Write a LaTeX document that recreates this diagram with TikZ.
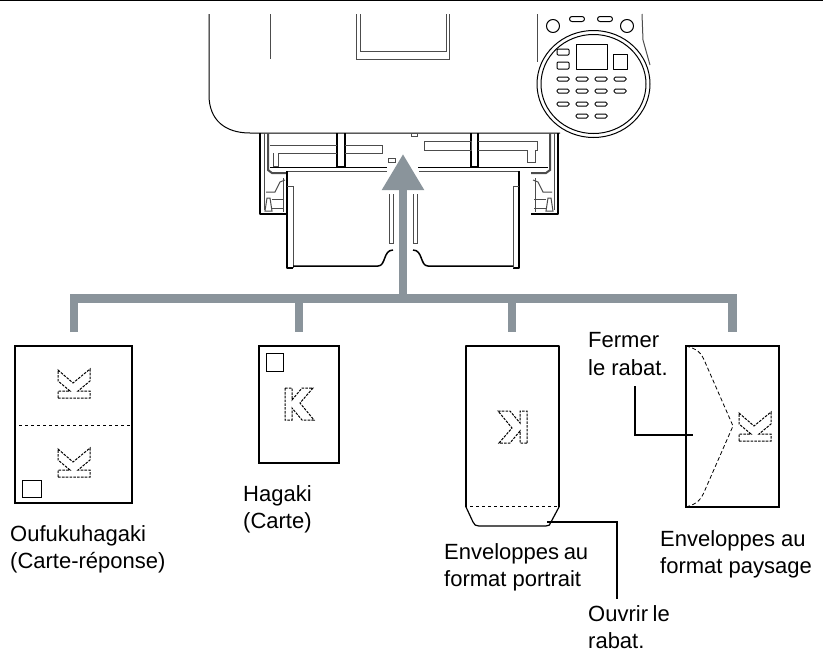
\documentclass[tikz,border=0pt]{standalone}
\usepackage{fontspec}
\setmainfont{Liberation Sans}
\usetikzlibrary{arrows.meta}
\definecolor{bargray}{HTML}{8A949B}
\tikzset{
  letterk/.pic={
    \draw[line width=1pt,dash pattern=on 2.6pt off 1.2pt]
      (-14,-16) -- (-7,-16) -- (-7,-4) -- (3,-16) -- (14,-16) -- (1,-1)
      -- (15,16) -- (3,16) -- (-7,4) -- (-7,16) -- (-14,16) -- cycle;
  }
}
\begin{document}
\begin{tikzpicture}[
  x=1pt, y=-1pt,
  every node/.style={font=\fontsize{22}{27.8}\selectfont, inner sep=0pt},
  card/.style={draw, line width=1.2pt, minimum height=0pt, minimum width=0pt},
  stamp/.style={draw, line width=.8pt},
  label/.style={anchor=north west, align=left},
  outline/.style={line width=1pt, line join=round},
  thick line/.style={line width=1.5pt, line join=round},
  soft line/.style={line width=1pt, draw=black!70},
  bar/.style={draw=bargray, line width=8.5pt},
  lead/.style={draw, line width=2.4pt}
]
\useasboundingbox (0,0) rectangle (823,656);
\draw[line width=1.6pt] (0,0.6) -- (823,0.6);

% printer
\draw[outline] (209,14) -- (209,95) .. controls (209,120) and (225,133) .. (250,133) -- (560,133);
\draw[soft line] (270,14) -- (270,59);
\draw[soft line] (356,14) -- (356,59) -- (449,59) -- (449,14);
\draw[soft line] (360,14) -- (360,51) -- (446,51) -- (446,14);
\draw[soft line] (537,14) -- (537,62);
\draw[soft line] (642,14) -- (643,40) -- (650,65);
\draw[outline, fill=white] (593.5,84) ellipse (56.5 and 53.5);
\draw[outline] (593.5,84) ellipse (52.5 and 49.5);
\draw[outline] (553,26) circle (6.5);
\draw[outline] (627,26) circle (6.5);
\foreach \kx in {577,605}
  \draw[outline, rounded corners=2.5pt] (\kx-7.5,16.5) rectangle (\kx+7.5,21.5);
\draw[outline] (576,44) rectangle (607,69);
\draw[outline] (613,54) rectangle (627,69);
\draw[outline, rounded corners=1pt] (557,49) rectangle (569,55);
\draw[outline, rounded corners=1pt] (557,62) rectangle (569,69);
\foreach \kx/\ky in {563/79,582/79,601/79,620/79,563/91,582/91,601/91,620/91,563/104,582/104,601/104,582/116,601/116}
  \draw[outline, rounded corners=1.5pt] (\kx-6,\ky-2) rectangle (\kx+6,\ky+2);

% tray
\foreach \s/\o in {1/0,-1/818} {
  \begin{scope}[xshift=\o pt, xscale=\s]
    \draw[thick line] (260,133) -- (260,214) -- (287,214);
    \draw[soft line] (264,133) -- (264,210);
    \draw[line width=2pt, draw=black!70] (268,133) -- (268,170) -- (272,173) -- (287,173);
    \draw[soft line] (265,211) -- (267,198) -- (270,198) -- (272,211) -- cycle;
    \draw[soft line] (266,192) -- (275,192) -- (280,182) -- (285,180);
    \draw[soft line] (272,199) -- (284,199);
    \draw[soft line] (272,208) -- (284,208);
    \draw[soft line] (283,178) -- (283,212);
  \end{scope}
}
\draw[thick line] (337,133) -- (337,167) -- (345,167) -- (345,133);
\draw[thick line] (471,133) -- (471,167) -- (478,167) -- (478,133);
\draw[soft line] (345,145) -- (382,145) -- (382,153) -- (345,153);
\draw[soft line] (337,145) -- (270,145);
\draw[soft line] (337,153) -- (278,153) -- (278,166) -- (273,166) -- (273,153);
\draw[soft line] (424,141) rectangle (471,150);
\draw[soft line] (478,141) -- (537,141) -- (537,150) -- (535,150) -- (535,162) -- (527,162) -- (527,150) -- (478,150);
\draw[soft line] (388,158) rectangle (395,162);
\draw[soft line] (411,133) rectangle (417,136);
\draw[outline] (270,167) -- (387,167);
\draw[outline] (418,167) -- (548,167);

% paper support
\foreach \s/\o in {1/0,-1/806} {
  \begin{scope}[xshift=\o pt, xscale=\s]
    \draw[soft line] (387,171) -- (287,171);
    \draw[thick line] (287,171) -- (287,268) -- (293,268);
    \draw[soft line] (287,186) -- (293,186) -- (293,268);
    \draw[thick line] (293,266) -- (378,266) .. controls (386,266) and (383,250) .. (393,250);
    \draw[soft line] (389,194) -- (389,243) -- (393,243) -- (393,194);
  \end{scope}
}

% cards
\node[card, minimum width=117, minimum height=157] (oufuku) at (73.5,424.5) {};
\node[stamp, minimum width=19, minimum height=17] (oufukustamp) at (31.5,488.5) {};
\coordinate (foldleft) at (19,425);
\draw[line width=.8pt, dashed] (foldleft) -- (oufuku.east |- foldleft);
\pic at (74,384) [rotate=90] {letterk};
\pic at (74,463) [rotate=90] {letterk};

\node[card, minimum width=80, minimum height=117] (hagaki) at (299,404.5) {};
\node[stamp, minimum width=17, minimum height=18] (hagakistamp) at (274.5,362) {};
\pic at (299,404) {letterk};

\draw[line width=1.2pt, line join=round] (466,507) -- (466,346) -- (559,346) -- (559,507);
\draw[line width=1.2pt, line join=round] (466,507) -- (473,522) .. controls (474,525) and (476,526) .. (479,526)
  -- (546,526) .. controls (549,526) and (550,525) .. (551,522) -- (559,507);
\coordinate (portraitflap) at (547,522);
\draw[line width=.8pt, dashed] (470,506) -- (559,506);
\pic at (513,427) [rotate=180] {letterk};

\node[card, minimum width=93, minimum height=161] (landscape) at (732.5,426.5) {};
\draw[line width=.8pt, dash pattern=on 4pt off 2.5pt] (686,346) .. controls (697,349) and (701,352) .. (705,362)
  -- (733,426) -- (705,490) .. controls (701,500) and (697,504) .. (686,507);
\pic at (755,427) [rotate=90] {letterk};
\coordinate (landscapeflap) at (693,435);

% connectors
\coordinate (bar1) at (74,298.5);
\coordinate (bar2) at (299,298.5);
\coordinate (bar3) at (512,298.5);
\coordinate (bar4) at (732.5,298.5);
\coordinate (trunk) at (403,298.5);
\coordinate (traytip) at (403,154);
\draw[bar, line join=miter] (74,332) -- (bar1) -- (bar4) -- (732.5,332);
\draw[bar] (bar2) -- (299,332);
\draw[bar] (bar3) -- (512,332);
\draw[bar, -{Triangle[width=40pt,length=36pt]}] (trunk) -- (traytip);

\coordinate (fermerend) at (635,386);
\coordinate (ouvrirend) at (617,599);
\draw[lead] (fermerend) |- (landscapeflap);
\draw[lead] (portraitflap) -| (ouvrirend);

% labels
\node[label] (oufukutext) at (10,525) {Oufukuhagaki\\(Carte-réponse)};
\node[label] (hagakitext) at (243,485) {Hagaki\\(Carte)};
\node[label] (portraittext) at (444,543) {Enveloppes\hspace{-1.5pt} au\\format portrait};
\node[label] (landscapetext) at (660,530) {Enveloppes au\\format paysage};
\node[label] (fermertext) at (588,332) {Fermer\\le rabat.};
\node[label] (ouvrirtext) at (588,605) {Ouvrir\hspace{-1.5pt} le\\rabat.};
\end{tikzpicture}
\end{document}
